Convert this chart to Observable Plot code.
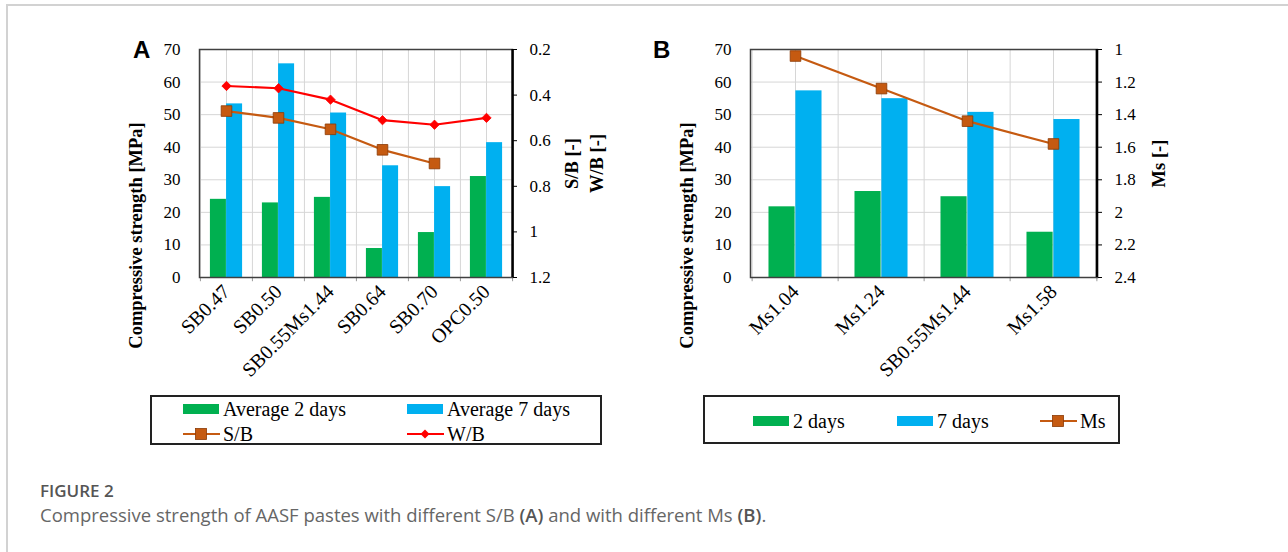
<!DOCTYPE html>
<html><head><meta charset="utf-8">
<script src="https://cdn.jsdelivr.net/npm/d3@7"></script>
<script src="https://cdn.jsdelivr.net/npm/@observablehq/plot@0.6"></script>
<style>
html,body{margin:0;padding:0;background:#fff;}
body{width:1288px;height:552px;position:relative;overflow:hidden;font-family:"Liberation Serif",serif;}
#frame{position:absolute;left:6px;top:4px;width:1290px;height:560px;border-left:2px solid #d2d2d2;border-top:2px solid #d2d2d2;}
.panel{position:absolute;}
.letter{position:absolute;font-family:"Liberation Sans",Arial,sans-serif;font-weight:bold;font-size:24px;line-height:1;color:#000;}
.legend{position:absolute;box-sizing:border-box;border:2px solid #222;background:#fff;}
.item{position:absolute;display:flex;align-items:center;font-size:20px;line-height:1;color:#000;white-space:nowrap;}
.sw{display:inline-block;width:36px;height:10px;margin-right:4px;}
.cap1{position:absolute;left:40px;top:482px;font-family:"Open Sans",sans-serif;font-weight:600;font-size:17px;line-height:1;color:#555;}
.cap2{position:absolute;left:40px;top:506px;font-family:"Open Sans",sans-serif;font-size:18.5px;line-height:1;color:#666;}
.cap2 b{font-weight:600;color:#555;}
</style></head><body>
<div id="frame"></div>
<div class="letter" style="left:133px;top:38px;">A</div>
<div class="letter" style="left:653px;top:38px;">B</div>
<div id="panelA" class="panel" style="left:110px;top:30px;"></div>
<div id="panelB" class="panel" style="left:660px;top:30px;"></div>
<div id="legA" class="legend" style="left:150px;top:395px;width:452px;height:50px;"></div>
<div id="legB" class="legend" style="left:703px;top:395px;width:417px;height:49px;"></div>
<div class="cap1">FIGURE 2</div>
<div class="cap2">Compressive strength of AASF pastes with different S/B <b>(A)</b> and with different Ms <b>(B)</b>.</div>
<script>
// ---- Data: panel A ----
const catsA = ["SB0.47","SB0.50","SB0.55Ms1.44","SB0.64","SB0.70","OPC0.50"];
const avg2A = [24.0, 22.9, 24.6, 8.9, 13.8, 31.0];
const avg7A = [53.3, 65.6, 50.5, 34.3, 27.9, 41.4];
const sbA   = [0.47, 0.50, 0.55, 0.64, 0.70, null];
const wbA   = [0.36, 0.37, 0.42, 0.51, 0.53, 0.50];
// ---- Data: panel B ----
const catsB = ["Ms1.04","Ms1.24","SB0.55Ms1.44","Ms1.58"];
const d2B = [21.7, 26.4, 24.8, 13.9];
const d7B = [57.3, 54.9, 50.7, 48.5];
const msB = [1.04, 1.24, 1.44, 1.58];
// ---- Axes ----
const leftTicks = [0,10,20,30,40,50,60,70];
const rightTicksA = [0.2,0.4,0.6,0.8,1,1.2];
const rightTicksB = [1,1.2,1.4,1.6,1.8,2,2.2,2.4];
const leftTitle = "Compressive strength [MPa]";

const GREEN = "#00B050", BLUE = "#00B0F0", ORANGE = "#C55A11", RED = "#FF0000";

function panel({cats, s1, s2, lines, rightDomain, rightTicks, rightTitles, width, height, mL, mR, mT, mB}) {
  const plotW = width - mL - mR;
  const band = plotW / cats.length;
  const barW = band * 0.31;
  const toLeft = d3.scaleLinear().domain(rightDomain).range([70, 0]);
  const rows = cats.map((c, i) => ({c, a: s1[i], b: s2[i]}));
  const last = cats[cats.length - 1];
  const grid = "#d6d6d6";
  const marks = [
    Plot.gridY(leftTicks, {stroke: grid, strokeOpacity: 1}),
    Plot.ruleX(cats, {x: d => d, stroke: grid}),
    Plot.ruleX(cats, {x: d => d, dx: -band / 2, stroke: grid}),
    Plot.barY(rows, {x: "c", y: "a", fill: GREEN, insetLeft: band / 2 - barW, insetRight: band / 2}),
    Plot.barY(rows, {x: "c", y: "b", fill: BLUE, insetLeft: band / 2, insetRight: band / 2 - barW}),
    Plot.ruleX(cats, {x: d => d, dx: -band / 2, y1: 0, y2: -1.3, stroke: "#999"}),
    Plot.ruleX([last], {x: d => d, dx: band / 2, y1: 0, y2: -1.3, stroke: "#999"}),
    Plot.frame({stroke: "#404040", strokeWidth: 1.5}),
    Plot.ruleX([last], {x: d => d, dx: band / 2, stroke: "#000", strokeWidth: 2.5}),
  ];
  for (const L of lines) {
    const pts = cats.map((c, i) => ({c, v: L.values[i]})).filter(d => d.v != null);
    marks.push(Plot.line(pts, {x: "c", y: d => toLeft(d.v), stroke: L.color, strokeWidth: 2.2}));
    marks.push(Plot.dot(pts, {x: "c", y: d => toLeft(d.v), symbol: L.symbol, r: L.r, fill: L.color, stroke: L.edge, strokeWidth: 0.8}));
  }
  marks.push(
    Plot.axisY(leftTicks, {tickSize: 0, tickPadding: 19, fontSize: 17, label: null}),
    Plot.axisY(rightTicks.map(t => toLeft(t)), {anchor: "right", tickSize: 4, tickPadding: 13, fontSize: 17, label: null,
      tickFormat: d => String(+toLeft.invert(d).toFixed(1))}),
    Plot.axisX({tickRotate: -45, tickSize: 0, tickPadding: 11, fontSize: 20, label: null}),
    Plot.text([leftTitle], {frameAnchor: "left", textAnchor: "middle", rotate: -90, dx: -63, dy: 72, fontWeight: "bold", fontSize: 18.5})
  );
  for (const t of rightTitles) {
    marks.push(Plot.text([t.text], {frameAnchor: "right", textAnchor: "middle", rotate: -90, dx: t.dx, fontWeight: "bold", fontSize: 18.5}));
  }
  return Plot.plot({
    width, height, marginLeft: mL, marginRight: mR, marginTop: mT, marginBottom: mB,
    style: {fontFamily: "Liberation Serif", fontSize: "17px", color: "#000", background: "transparent", overflow: "visible"},
    x: {domain: cats, padding: 0, axis: null},
    y: {domain: [0, 70], axis: null},
    marks
  });
}

document.getElementById("panelA").append(panel({
  cats: catsA, s1: avg2A, s2: avg7A,
  lines: [
    {values: wbA, color: RED, symbol: "diamond2", r: 4.2, edge: RED},
    {values: sbA, color: ORANGE, symbol: "square", r: 6, edge: "#8a3a05"}
  ],
  rightDomain: [0.2, 1.2], rightTicks: rightTicksA,
  rightTitles: [{text: "S/B [-]", dx: 60}, {text: "W/B [-]", dx: 85}],
  width: 500, height: 370, mL: 89, mR: 98, mT: 19, mB: 123
}));
document.getElementById("panelB").append(panel({
  cats: catsB, s1: d2B, s2: d7B,
  lines: [{values: msB, color: ORANGE, symbol: "square", r: 6, edge: "#8a3a05"}],
  rightDomain: [1, 2.4], rightTicks: rightTicksB,
  rightTitles: [{text: "Ms [-]", dx: 62}],
  width: 540, height: 370, mL: 90, mR: 103, mT: 19, mB: 123
}));

// ---- Legends ----
function lineSwatch(color, shape) {
  const mk = shape === "square"
    ? `<rect x="12.5" y="1.5" width="11" height="11" fill="${color}" stroke="#8a3a05" stroke-width="0.8"/>`
    : `<path d="M18 2.5 L22.5 7 L18 11.5 L13.5 7 Z" fill="${color}"/>`;
  return `<svg width="37" height="14" style="margin-right:3px"><line x1="0" y1="7" x2="37" y2="7" stroke="${color}" stroke-width="2"/>${mk}</svg>`;
}
function item(parent, x, y, sw, label) {
  const d = document.createElement("div");
  d.className = "item";
  d.style.left = x + "px"; d.style.top = (y - 10) + "px"; d.style.height = "20px";
  d.innerHTML = sw + `<span>${label}</span>`;
  parent.append(d);
}
const box = c => `<span class="sw" style="background:${c}"></span>`;
const legA = document.getElementById("legA");
item(legA, 31, 12, box(GREEN), "Average 2 days");
item(legA, 255, 12, box(BLUE), "Average 7 days");
item(legA, 31, 37, lineSwatch(ORANGE, "square"), "S/B");
item(legA, 255, 37, lineSwatch(RED, "diamond"), "W/B");
const legB = document.getElementById("legB");
item(legB, 48, 24, box(GREEN), "2 days");
item(legB, 192, 24, box(BLUE), "7 days");
item(legB, 335, 24, lineSwatch(ORANGE, "square"), "Ms");
</script>
</body></html>
